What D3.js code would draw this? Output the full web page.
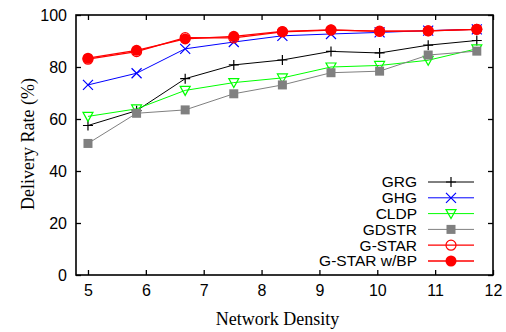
<!DOCTYPE html>
<html>
<head>
<meta charset="utf-8">
<script src="https://cdn.jsdelivr.net/npm/d3@7"></script>
<style>
  body { margin: 0; background: #fff; }
  svg { display: block; }
</style>
</head>
<body>
<figure id="chart" style="margin:0"></figure>
<script>
// network density values (x)
const density = [5, 5.84, 6.68, 7.52, 8.36, 9.2, 10.04, 10.88, 11.72];

// delivery rate (%) per protocol
const grg      = [57.5, 63.2, 75.5, 80.8, 82.7, 86.0, 85.4, 88.4, 90.2];
const ghg      = [73.1, 77.6, 87.0, 89.6, 92.0, 92.7, 93.3, 94.0, 94.5];
const cldp     = [61.0, 63.9, 71.0, 74.0, 75.8, 80.0, 80.6, 82.6, 87.0];
const gdstr    = [50.6, 62.2, 63.5, 69.7, 73.1, 77.8, 78.4, 84.6, 86.1];
const gstar    = [83.0, 85.9, 91.3, 91.2, 93.5, 94.2, 93.8, 93.9, 94.5];
const gstarBP  = [83.4, 86.4, 90.8, 91.8, 93.7, 94.3, 93.7, 93.9, 94.5];

const seriesNames = ["GRG", "GHG", "CLDP", "GDSTR", "G-STAR", "G-STAR w/BP"];
const seriesValues = [grg, ghg, cldp, gdstr, gstar, gstarBP];
const colors = ["#000000", "#0000ff", "#00ff00", "#808080", "#ff0000", "#ff0000"];
const markers = ["plus", "cross", "triangle", "square", "circle", "dot"];

const xTicks = [5, 6, 7, 8, 9, 10, 11, 12];
const yTicks = [0, 20, 40, 60, 80, 100];

const width = 506, height = 332;
const margin = { top: 15, right: 13, bottom: 57, left: 76 };
const innerW = width - margin.left - margin.right;
const innerH = height - margin.top - margin.bottom;

const svg = d3.select("#chart").append("svg")
  .attr("width", width)
  .attr("height", height);

const g = svg.append("g")
  .attr("transform", "translate(" + margin.left + "," + margin.top + ")");

const x = d3.scaleLinear().domain([4.793, 12]).range([0, innerW]);
const y = d3.scaleLinear().domain([0, 100]).range([innerH, 0]);

const tickFont = "'Liberation Sans', Arial, sans-serif";
const titleFont = "'Liberation Serif', 'Times New Roman', serif";

// axes with inward ticks
const xAxis = g.append("g")
  .attr("transform", "translate(0," + innerH + ")")
  .call(d3.axisBottom(x).tickValues(xTicks).tickSizeInner(-5).tickSizeOuter(0).tickPadding(10));
const xAxisTop = g.append("g")
  .call(d3.axisTop(x).tickValues(xTicks).tickSizeInner(-5).tickSizeOuter(0).tickFormat(""));
const yAxis = g.append("g")
  .call(d3.axisLeft(y).tickValues(yTicks).tickSizeInner(-5).tickSizeOuter(0).tickPadding(9));
const yAxisRight = g.append("g")
  .attr("transform", "translate(" + innerW + ",0)")
  .call(d3.axisRight(y).tickValues(yTicks).tickSizeInner(-5).tickSizeOuter(0).tickFormat(""));

[xAxis, xAxisTop, yAxis, yAxisRight].forEach(a => {
  a.select(".domain").remove();
  a.selectAll("line").attr("stroke", "#000").attr("stroke-width", 1.3);
  a.selectAll("text").style("font-family", tickFont).style("font-size", "16px").attr("fill", "#000");
});

// frame
g.append("rect")
  .attr("width", innerW).attr("height", innerH)
  .attr("fill", "none").attr("stroke", "#000").attr("stroke-width", 1.6);

// axis titles
svg.append("text")
  .attr("x", margin.left + innerW / 2 - 7)
  .attr("y", 325)
  .attr("text-anchor", "middle")
  .style("font-family", titleFont)
  .style("font-size", "18px")
  .text("Network Density");

svg.append("text")
  .attr("transform", "translate(34,144) rotate(-90)")
  .attr("text-anchor", "middle")
  .style("font-family", titleFont)
  .style("font-size", "18px")
  .text("Delivery Rate (%)");

function drawMarker(sel, type, color) {
  const s = 5;
  if (type === "plus") {
    sel.append("path").attr("d", `M${-s},0H${s}M0,${-s}V${s}`)
      .attr("stroke", color).attr("stroke-width", 1.2).attr("fill", "none");
  } else if (type === "cross") {
    sel.append("path").attr("d", `M${-s},${-s}L${s},${s}M${-s},${s}L${s},${-s}`)
      .attr("stroke", color).attr("stroke-width", 1.2).attr("fill", "none");
  } else if (type === "triangle") {
    sel.append("path").attr("d", `M${-s},${-s + 1}L${s},${-s + 1}L0,${s}Z`)
      .attr("stroke", color).attr("stroke-width", 1.2).attr("fill", "none");
  } else if (type === "square") {
    sel.append("rect").attr("x", -4.5).attr("y", -4.5).attr("width", 9).attr("height", 9)
      .attr("fill", color);
  } else if (type === "circle") {
    sel.append("circle").attr("r", 5).attr("fill", "none")
      .attr("stroke", color).attr("stroke-width", 1.2);
  } else if (type === "dot") {
    sel.append("circle").attr("r", 5.5).attr("fill", color);
  }
}

const line = d3.line().x(d => x(d[0])).y(d => y(d[1]));

seriesValues.forEach((vals, i) => {
  const pts = density.map((d, j) => [d, vals[j]]);
  const sg = g.append("g");
  sg.append("path")
    .datum(pts)
    .attr("d", line)
    .attr("fill", "none")
    .attr("stroke", colors[i])
    .attr("stroke-width", i >= 4 ? 1.3 : 1);
  sg.selectAll(".m")
    .data(pts)
    .enter()
    .append("g")
    .attr("transform", d => "translate(" + x(d[0]) + "," + y(d[1]) + ")")
    .each(function() { drawMarker(d3.select(this), markers[i], colors[i]); });
});

// legend
const legend = svg.append("g");
const legY0 = 182, legStep = 15.8;
seriesNames.forEach((name, i) => {
  const ly = legY0 + i * legStep;
  legend.append("text")
    .attr("x", 417).attr("y", ly)
    .attr("dy", "0.35em")
    .attr("text-anchor", "end")
    .style("font-family", tickFont)
    .style("font-size", "15.5px")
    .text(name);
  legend.append("line")
    .attr("x1", 428).attr("x2", 474).attr("y1", ly).attr("y2", ly)
    .attr("stroke", colors[i]).attr("stroke-width", i >= 4 ? 1.3 : 1);
  const mg = legend.append("g").attr("transform", "translate(451," + ly + ")");
  drawMarker(mg, markers[i], colors[i]);
});
</script>
</body>
</html>
